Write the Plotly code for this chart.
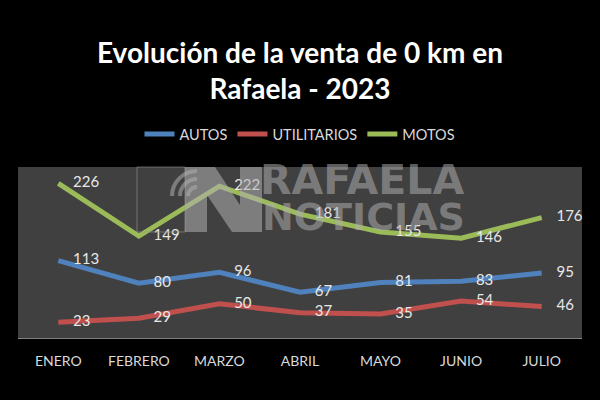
import plotly.graph_objects as go

months = ["ENERO", "FEBRERO", "MARZO", "ABRIL", "MAYO", "JUNIO", "JULIO"]
autos = [113, 80, 96, 67, 81, 83, 95]
utilitarios = [23, 29, 50, 37, 35, 54, 46]
motos = [226, 149, 222, 181, 155, 146, 176]

series = [
    ("AUTOS", autos, "#4F81BD"),
    ("UTILITARIOS", utilitarios, "#C0504D"),
    ("MOTOS", motos, "#9BBB59"),
]

W, H = 600, 400
ML, MR, MT, MB = 18, 18, 167, 62
PW, PH = W - ML - MR, H - MT - MB


def px(x):
    return (x - ML) / PW


def py(y):
    return (H - MB - y) / PH


fig = go.Figure()
for name, vals, color in series:
    fig.add_trace(go.Scatter(
        x=months, y=vals, name=name, mode="lines+markers+text",
        line=dict(color=color, width=5),
        marker=dict(size=22, color="rgba(0,0,0,0)"),
        text=[str(v) for v in vals], textposition="middle right",
        textfont=dict(family="Lato", size=15, color="#e8e8e8"),
        cliponaxis=False,
    ))

wm = "rgba(175,175,175,0.55)"
annotations = [
    dict(text="<b>RAFAELA</b>", x=px(362), y=py(180), xref="paper", yref="paper",
         xanchor="center", yanchor="middle",
         showarrow=False, font=dict(family="DejaVu Sans", size=41, color=wm)),
    dict(text="<b>NOTICIAS</b>", x=px(363), y=py(217), xref="paper", yref="paper",
         xanchor="center", yanchor="middle",
         showarrow=False, font=dict(family="DejaVu Sans", size=38, color=wm)),
]


def poly(points):
    p = [(px(a), py(b)) for a, b in points]
    return "M " + " L ".join("{} {}".format(a, b) for a, b in p) + " Z"


def arc_path(cx, cy, r):
    k = 0.5523 * r
    pts = [(cx - r, cy), (cx - r, cy - k), (cx - k, cy - r), (cx, cy - r)]
    p = [(px(a), py(b)) for a, b in pts]
    return "M {} {} C {} {}, {} {}, {} {}".format(p[0][0], p[0][1], p[1][0], p[1][1],
                                                  p[2][0], p[2][1], p[3][0], p[3][1])


n_shape = [(185, 232), (185, 167), (215, 167), (240, 205), (240, 167), (262, 167),
           (262, 232), (232, 232), (207, 195), (207, 232)]

shapes = [
    dict(type="rect", xref="paper", yref="paper", x0=px(137), x1=px(185), y0=py(232), y1=py(167),
         line=dict(color="rgba(150,150,150,0.6)", width=1)),
    dict(type="path", xref="paper", yref="paper", path=poly(n_shape),
         fillcolor=wm, line=dict(width=0)),
]
for r in (9, 17, 25):
    shapes.append(dict(type="path", xref="paper", yref="paper", path=arc_path(197, 196, r),
                       line=dict(color=wm, width=4)))

fig.update_layout(
    width=W, height=H,
    margin=dict(l=ML, r=MR, t=MT, b=MB),
    paper_bgcolor="#000000", plot_bgcolor="#404040",
    title=dict(text="<b>Evolución de la venta de 0 km en<br>Rafaela - 2023</b>",
               x=0.5, xanchor="center", y=1 - 63 / H, yanchor="middle", yref="container",
               font=dict(family="Lato", size=28, color="#ffffff")),
    legend=dict(orientation="h", x=0.5, xanchor="center", y=py(134), yanchor="middle",
                font=dict(family="Lato", size=14.5, color="#d9d9d9"), bgcolor="rgba(0,0,0,0)",
                itemwidth=30),
    showlegend=True,
    annotations=annotations,
    shapes=shapes,
    xaxis=dict(range=[-0.5, 6.5], showgrid=False, zeroline=False, showline=True,
               linecolor="#808080", linewidth=1, ticks="", ticklabelstandoff=10,
               tickfont=dict(family="Lato", size=14, color="#d9d9d9"), fixedrange=True),
    yaxis=dict(range=[0, 250], visible=False, showgrid=False, zeroline=False),
)

fig.write_html("out.html", config={"displayModeBar": False},
               post_script="document.body.style.margin='0';document.body.style.overflow='hidden';")
